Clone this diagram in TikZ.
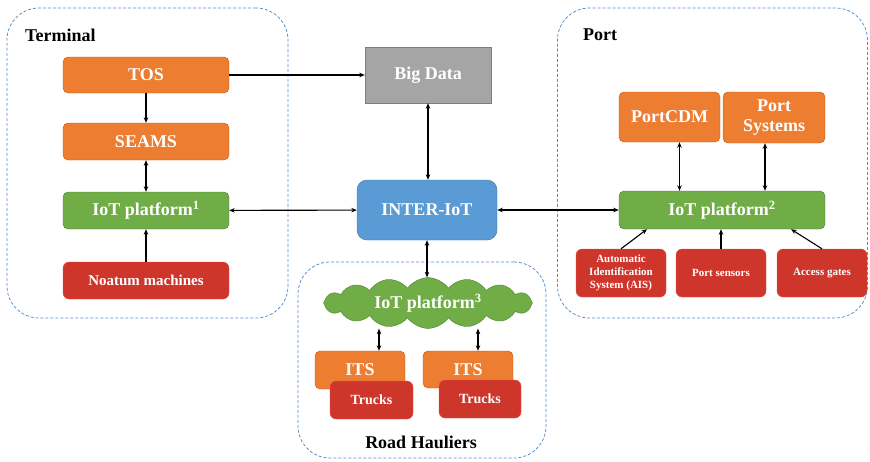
\documentclass[tikz,border=0pt]{standalone}
\usepackage{fontspec}
\setmainfont{Liberation Serif}
\usetikzlibrary{shapes.symbols,arrows.meta,positioning,calc}
\definecolor{boxorange}{RGB}{237,125,49}
\definecolor{orangeline}{RGB}{197,90,17}
\definecolor{boxgreen}{RGB}{112,173,71}
\definecolor{greenline}{RGB}{80,126,50}
\definecolor{boxred}{RGB}{207,54,43}
\definecolor{redline}{RGB}{232,80,70}
\definecolor{boxblue}{RGB}{91,155,213}
\definecolor{blueline}{RGB}{65,113,156}
\definecolor{boxgray}{RGB}{165,165,165}
\definecolor{grayline}{RGB}{125,125,125}
\definecolor{groupblue}{RGB}{84,140,200}

\begin{document}
\begin{tikzpicture}[
    x=1pt, y=-1pt,
    group/.style={rectangle, draw=groupblue, dash pattern=on 3pt off 2pt, line width=0.75pt, rounded corners=32pt, inner sep=0pt},
    grouplabel/.style={font=\bfseries\fontsize{18}{20}\selectfont, inner sep=0pt},
    orangebox/.style={rectangle, draw=orangeline, fill=boxorange, rounded corners=5pt, align=center, text=white, inner sep=0pt, font=\bfseries\fontsize{18}{20}\selectfont},
    greenbox/.style={rectangle, draw=greenline, fill=boxgreen, rounded corners=5pt, align=center, text=white, inner sep=0pt, font=\bfseries\fontsize{18}{20}\selectfont},
    redbox/.style={rectangle, draw=redline, fill=boxred, rounded corners=6pt, align=center, text=white, inner sep=0pt, font=\bfseries\fontsize{11}{13.3}\selectfont},
    cloudbox/.style={cloud, cloud puffs=16, cloud puff arc=110, aspect=4.2, draw=greenline, fill=boxgreen, text=white, inner sep=0pt, minimum width=209pt, minimum height=50pt, font=\bfseries\fontsize{18}{20}\selectfont},
    arrow/.style={-{Stealth[length=5.5pt,width=4.5pt]}, line width=1.1pt},
    biarrow/.style={{Stealth[length=5.5pt,width=4.5pt]}-{Stealth[length=5.5pt,width=4.5pt]}, line width=1.1pt}
]
    \useasboundingbox (0,0) rectangle (870,461);

    % Groups
    \node[group, minimum width=281pt, minimum height=310pt] (terminal) at (147.5,163) {};
    \node[group, minimum width=310pt, minimum height=310pt] (port) at (712.5,163) {};
    \node[group, minimum width=248pt, minimum height=196pt] (road) at (422,360) {};
    \node[grouplabel, anchor=west] (terminallabel) at (25,35) {Terminal};
    \node[grouplabel, anchor=west] (portlabel) at (583,35) {Port};
    \node[grouplabel] (roadlabel) at (421,442) {Road Hauliers};

    % Terminal
    \node[orangebox, minimum width=166pt, minimum height=36pt] (tos) at (146,75) {TOS};
    \node[orangebox, minimum width=166pt, minimum height=37pt] (seams) at (146,141.5) {SEAMS};
    \node[greenbox, minimum width=166pt, minimum height=37pt] (iot1) at (146,210.5) {IoT platform\textsuperscript{1}};
    \node[redbox, minimum width=166pt, minimum height=37pt, font=\bfseries\fontsize{15}{17}\selectfont] (noatum) at (146,280.5) {Noatum machines};

    % Centre
    \node[rectangle, draw=grayline, fill=boxgray, text=white, inner sep=0pt, minimum width=126pt, minimum height=56pt, font=\bfseries\fontsize{18}{20}\selectfont] (bigdata) at (428,75) {Big Data};
    \node[rectangle, draw=blueline, fill=boxblue, text=white, rounded corners=10pt, inner sep=0pt, minimum width=140pt, minimum height=60pt, font=\bfseries\fontsize{18}{20}\selectfont] (interiot) at (427,210) {INTER-IoT};

    % Port
    \node[orangebox, minimum width=101pt, minimum height=50pt] (portcdm) at (669.5,117) {PortCDM};
    \node[orangebox, minimum width=102pt, minimum height=51pt] (portsys) at (774,117.5) {Port\\Systems};
    \node[greenbox, minimum width=206pt, minimum height=38pt] (iot2) at (722,210) {IoT platform\textsuperscript{2}};
    \node[redbox, minimum width=90pt, minimum height=48pt] (ais) at (621,273) {Automatic\\Identification\\System (AIS)};
    \node[redbox, minimum width=90pt, minimum height=48pt] (sensors) at (721,273) {Port sensors};
    \node[redbox, minimum width=90pt, minimum height=48pt] (gates) at (822,273) {Access gates};

    % Road hauliers
    \node[cloudbox] (iot3) at (428,303) {IoT platform\textsuperscript{3}};
    \node[orangebox, minimum width=90pt, minimum height=38pt] (its1) at (360,370) {ITS};
    \node[orangebox, minimum width=90pt, minimum height=37pt] (its2) at (468,369.5) {ITS};
    \node[redbox, minimum width=83pt, minimum height=38pt, font=\bfseries\fontsize{14}{16}\selectfont] (trucks1) at (371.5,400) {Trucks};
    \node[redbox, minimum width=82pt, minimum height=38pt, font=\bfseries\fontsize{14}{16}\selectfont] (trucks2) at (480,399) {Trucks};

    % Connectors
    \draw[arrow] (tos) -- (bigdata);
    \draw[arrow] (tos) -- (seams);
    \draw[biarrow] (seams) -- (iot1);
    \draw[arrow] (noatum) -- (iot1);
    \draw[biarrow] (iot1) -- (interiot);
    \draw[biarrow] (bigdata.south) -- (bigdata.south |- interiot.north);
    \draw[biarrow] (interiot) -- (iot2);
    \draw[biarrow] (interiot.south) -- (interiot.south |- iot3.north);
    \draw[biarrow] ([xshift=10pt]portcdm.south) -- ([xshift=10pt]portcdm.south |- iot2.north);
    \draw[biarrow] ([xshift=-9pt]portsys.south) -- ([xshift=-9pt]portsys.south |- iot2.north);
    \draw[arrow] (ais.north) -- ([xshift=-75pt]iot2.south);
    \draw[arrow] (sensors.north) -- (sensors.north |- iot2.south);
    \draw[arrow] (gates.north) -- ([xshift=69pt]iot2.south);
    \draw[biarrow] ([xshift=19pt]its1.north) -- ([xshift=19pt]its1.north |- iot3.south);
    \draw[biarrow] ([xshift=10pt]its2.north) -- ([xshift=10pt]its2.north |- iot3.south);
\end{tikzpicture}
\end{document}
